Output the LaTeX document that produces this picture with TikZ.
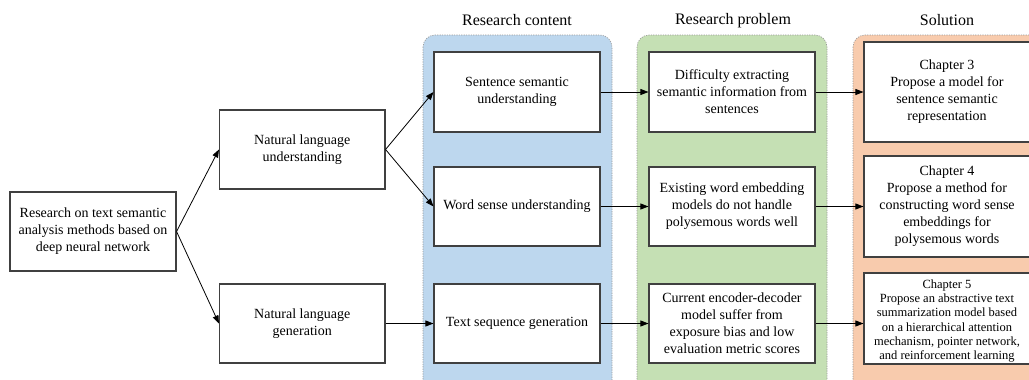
\documentclass[tikz,border=0pt]{standalone}
\usepackage{fontspec}
\setmainfont{Liberation Serif}
\usetikzlibrary{arrows.meta}
\definecolor{pblue}{HTML}{BDD7EE}
\definecolor{pgreen}{HTML}{C5E0B4}
\definecolor{porange}{HTML}{F8CBAD}
\definecolor{boxline}{HTML}{404040}
\tikzset{
  box/.style={draw=boxline, line width=1.1pt, fill=white, align=center, inner sep=2pt,
    font=\fontsize{14}{17}\selectfont},
  panel/.style={draw=gray!80, line width=0.6pt, dash pattern=on 1.2pt off 1.2pt, rounded corners=12pt},
  conn/.style={line width=0.8pt, -{Triangle[length=8pt,width=6pt]}},
  ttl/.style={font=\fontsize{16}{19}\selectfont}
}
\begin{document}
\begin{tikzpicture}[x=1pt,y=-1pt]
\useasboundingbox (0,0) rectangle (1029,380);
\clip (0,0) rectangle (1029,380);
% panels
\draw[panel, fill=pblue] (423,35) rectangle (612,392);
\draw[panel, fill=pgreen] (637,35) rectangle (827,392);
\draw[panel, fill=porange] (853,35) rectangle (1042,392);
% titles
\node[ttl] (t1) at (517,20.5) {Research content};
\node[ttl] (t2) at (733,20.5) {Research problem};
\node[ttl] (t3) at (947,20.5) {Solution};
% boxes
\node[box, minimum width=166pt, minimum height=79pt] (L) at (93,231.5) {Research on text semantic\\analysis methods based on\\deep neural network};
\node[box, minimum width=165.5pt, minimum height=79pt] (NLU) at (302.25,149.5) {Natural language\\understanding};
\node[box, minimum width=165.5pt, minimum height=79pt] (NLG) at (302.25,323.5) {Natural language\\generation};
\node[box, minimum width=166pt, minimum height=80pt] (B1) at (517,92) {Sentence semantic\\understanding};
\node[box, minimum width=166pt, minimum height=79pt] (B2) at (517,206.5) {Word sense understanding};
\node[box, minimum width=166pt, minimum height=79pt] (B3) at (517,323.5) {Text sequence generation};
\node[box, minimum width=166pt, minimum height=80pt] (G1) at (732,92) {Difficulty extracting\\semantic information from\\sentences};
\node[box, minimum width=166pt, minimum height=79pt] (G2) at (732,206.5) {Existing word embedding\\models do not handle\\polysemous words well};
\node[box, minimum width=166pt, minimum height=79pt] (G3) at (732,323.5) {Current encoder-decoder\\model suffer from\\exposure bias and low\\evaluation metric scores};
\node[box, minimum width=166pt, minimum height=100pt] (O1) at (947,92) {Chapter 3\\Propose a model for\\sentence semantic\\representation};
\node[box, minimum width=166pt, minimum height=101pt] (O2) at (947,206.5) {Chapter 4\\Propose a method for\\constructing word sense\\embeddings for\\polysemous words};
\node[box, minimum width=166pt, minimum height=91pt] (O3) at (947,318.5) {};
\node[font=\fontsize{12.5}{14.3}\selectfont, align=center, inner sep=0pt] (O3t) at (947,321) {Chapter 5\\Propose an abstractive text\\summarization model based\\on a hierarchical attention\\mechanism, pointer network,\\and reinforcement learning};
% connectors
\draw[conn] (L.east) -- (NLU.west);
\draw[conn] (L.east) -- (NLG.west);
\draw[conn] (NLU.east) -- (B1.west);
\draw[conn] (NLU.east) -- (B2.west);
\draw[conn] (NLG.east) -- (B3.west);
\draw[conn] (B1.east) -- (G1.west);
\draw[conn] (B2.east) -- (G2.west);
\draw[conn] (B3.east) -- (G3.west);
\draw[conn] (G1.east) -- (O1.west |- G1.east);
\draw[conn] (G2.east) -- (O2.west |- G2.east);
\draw[conn] (G3.east) -- (O3.west |- G3.east);
\end{tikzpicture}
\end{document}
